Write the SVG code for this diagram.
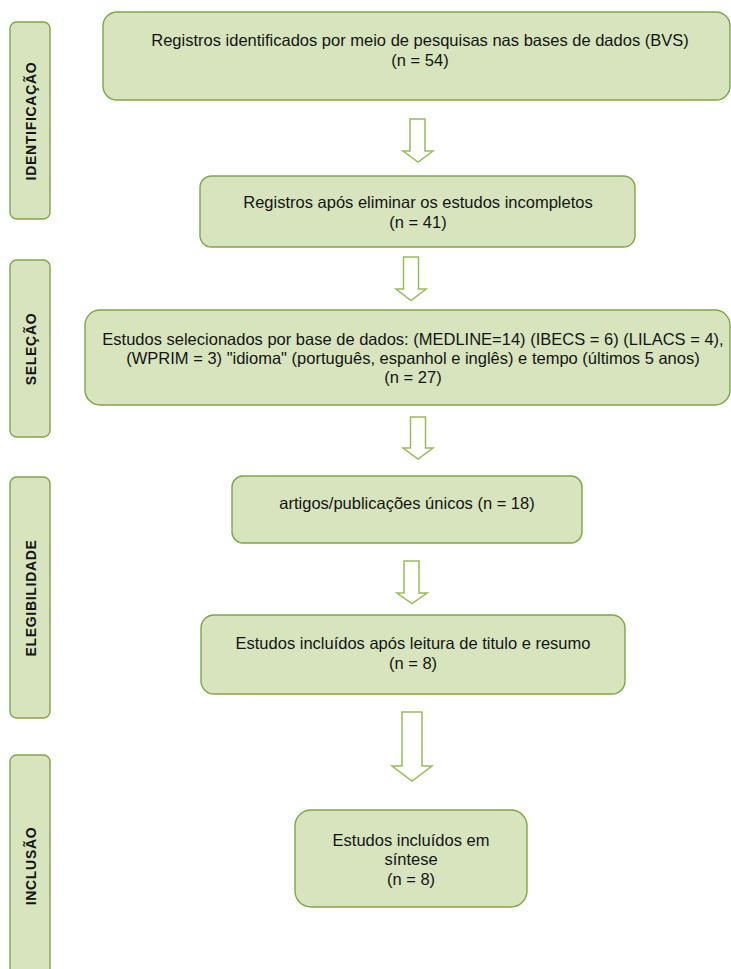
<svg xmlns="http://www.w3.org/2000/svg" width="731" height="969" viewBox="0 0 731 969">
<style>
.box{fill:#D7E4BD;stroke:#82A449;stroke-width:1.4}
.side{fill:#D7E4BD;stroke:#82A449;stroke-width:1.4}
.t{font-family:"Liberation Sans",Arial,sans-serif;font-size:16.5px;fill:#141414;text-anchor:middle}
.lab{font-family:"Liberation Sans",Arial,sans-serif;font-size:14px;font-weight:bold;letter-spacing:0.7px;fill:#141414;text-anchor:middle}
.arr{fill:#FFFFFF;stroke:#9BBB59;stroke-width:1.5;stroke-linejoin:miter}
</style>
<rect width="731" height="969" fill="#FFFFFF"/>
<g id="side-identificacao">
<rect class="side" x="10" y="22" width="40" height="197" rx="6.5"/>
<text class="lab" transform="translate(36,121) rotate(-90)">IDENTIFICAÇÃO</text>
</g>
<g id="side-selecao">
<rect class="side" x="10" y="260" width="40" height="177" rx="6.5"/>
<text class="lab" transform="translate(36,349) rotate(-90)">SELEÇÃO</text>
</g>
<g id="side-elegibilidade">
<rect class="side" x="10" y="477" width="40" height="241" rx="6.5"/>
<text class="lab" transform="translate(36,598) rotate(-90)">ELEGIBILIDADE</text>
</g>
<g id="side-inclusao">
<rect class="side" x="10" y="755" width="40" height="225" rx="6.5"/>
<text class="lab" transform="translate(36,866) rotate(-90)">INCLUSÃO</text>
</g>
<g id="box1">
<rect class="box" x="103" y="12" width="627" height="88" rx="14"/>
<text class="t" x="420" y="46">Registros identificados por meio de pesquisas nas bases de dados (BVS)</text>
<text class="t" x="420" y="66">(n = 54)</text>
</g>
<g id="box2">
<rect class="box" x="200" y="176" width="435" height="71" rx="11.5"/>
<text class="t" x="418" y="208">Registros após eliminar os estudos incompletos</text>
<text class="t" x="418" y="228">(n = 41)</text>
</g>
<g id="box3">
<rect class="box" x="85" y="310" width="645" height="95" rx="15"/>
<text class="t" x="413" y="345">Estudos selecionados por base de dados: (MEDLINE=14) (IBECS = 6) (LILACS = 4),</text>
<text class="t" x="413" y="364">(WPRIM = 3) "idioma" (português, espanhol e inglês) e tempo (últimos 5 anos)</text>
<text class="t" x="413" y="383">(n = 27)</text>
</g>
<g id="box4">
<rect class="box" x="232" y="476" width="350" height="67" rx="11"/>
<text class="t" x="407" y="509">artigos/publicações únicos (n = 18)</text>
</g>
<g id="box5">
<rect class="box" x="201" y="615" width="424" height="79" rx="13"/>
<text class="t" x="413" y="649">Estudos incluídos após leitura de titulo e resumo</text>
<text class="t" x="413" y="669">(n = 8)</text>
</g>
<g id="box6">
<rect class="box" x="295" y="810" width="232" height="97" rx="16"/>
<text class="t" x="411" y="846">Estudos incluídos em</text>
<text class="t" x="411" y="865">síntese</text>
<text class="t" x="411" y="885">(n = 8)</text>
</g>
<g id="connectors">
<polygon class="arr" points="410,119 425,119 425,151 433,151 418,162 403,151 410,151"/>
<polygon class="arr" points="403.5,257 418.5,257 418.5,289 426,289 411,300.5 396,289 403.5,289"/>
<polygon class="arr" points="410.5,417 425.5,417 425.5,448 433,448 418,459 403,448 410.5,448"/>
<polygon class="arr" points="404,561 419,561 419,593 427,593 412,603.5 397,593 404,593"/>
<polygon class="arr" points="402,712 422,712 422,766 432,766 412,781 392,766 402,766"/>
</g>
</svg>
